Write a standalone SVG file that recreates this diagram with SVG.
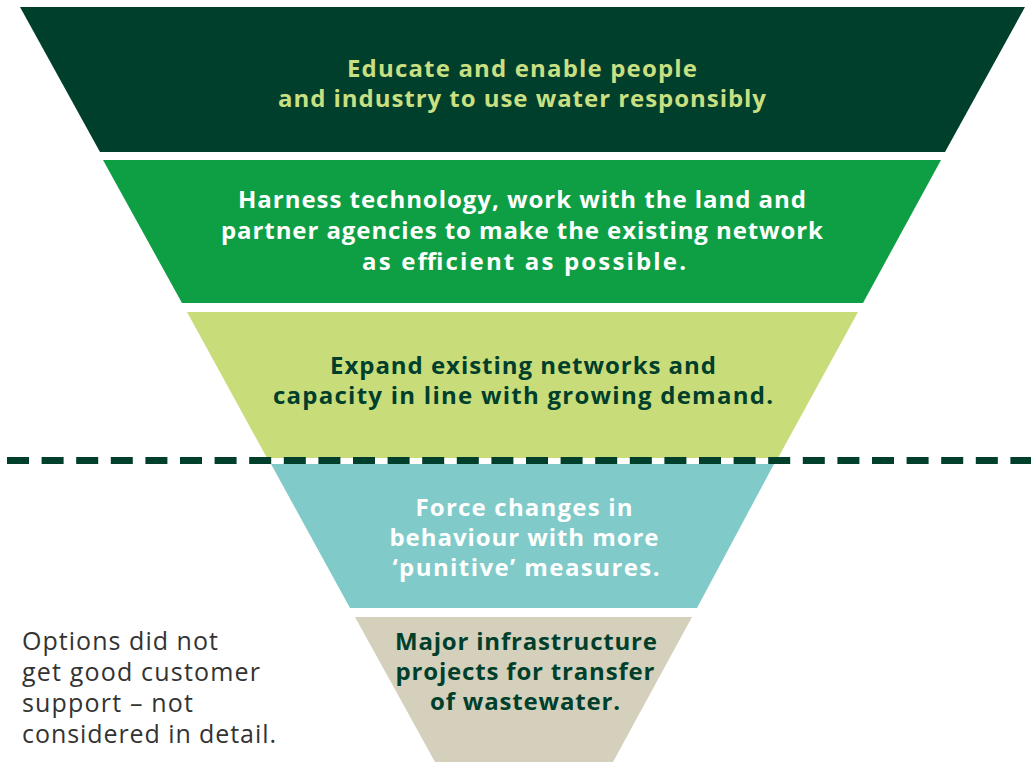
<svg xmlns="http://www.w3.org/2000/svg" width="1031" height="762" viewBox="0 0 1031 762">
<style>
.t{font-family:"Open Sans","Liberation Sans",sans-serif;font-weight:700;font-size:24px;text-anchor:middle}
.lg{fill:#c8df82}
.w{fill:#ffffff}
.dg{fill:#003f2b}
.side{font-family:"Open Sans","Liberation Sans",sans-serif;font-weight:400;font-size:25px;fill:#333333}
</style>
<rect width="1031" height="762" fill="#ffffff"/>
<g id="band1">
<polygon points="20,7 1025,7 945,152 100,152" fill="#003f2b"/>
<text class="t lg" x="522" y="77" textLength="350">Educate and enable people</text>
<text class="t lg" x="522" y="107" textLength="488">and industry to use water responsibly</text>
</g>
<g id="band2">
<polygon points="103,160 941,160 863,303 182,303" fill="#0e9f45"/>
<text class="t w" x="522" y="208" textLength="568">Harness technology, work with the land and</text>
<text class="t w" x="522" y="239" textLength="602">partner agencies to make the existing network</text>
<text class="t w" x="524" y="270" textLength="324">as efficient as possible.</text>
</g>
<g id="band3">
<polygon points="187,312 858,312 778,458 267,458" fill="#c8dc7a"/>
<text class="t dg" x="523" y="374" textLength="386">Expand existing networks and</text>
<text class="t dg" x="523" y="404" textLength="500">capacity in line with growing demand.</text>
</g>
<g id="band4">
<polygon points="271,464 774,464 697,608 350,608" fill="#80cbc9"/>
<text class="t w" x="524" y="516" textLength="217">Force changes in</text>
<text class="t w" x="524" y="546" textLength="269">behaviour with more</text>
<text class="t w" x="526" y="576" textLength="267">‘punitive’ measures.</text>
</g>
<g id="band5">
<polygon points="355,617 692,617 613,762 435,762" fill="#d4d0bb"/>
<text class="t dg" x="526" y="650" textLength="262">Major infrastructure</text>
<text class="t dg" x="525" y="680" textLength="259">projects for transfer</text>
<text class="t dg" x="525" y="710" textLength="190">of wastewater.</text>
</g>
<g id="connectors">
<line x1="7" y1="460.5" x2="1031" y2="460.5" stroke="#003f2b" stroke-width="7" stroke-dasharray="22 12.6"/>
</g>
<g id="note">
<text class="side" x="22" y="650" textLength="196">Options did not</text>
<text class="side" x="22" y="681" textLength="238">get good customer</text>
<text class="side" x="22" y="712" textLength="171">support – not</text>
<text class="side" x="22" y="743" textLength="254">considered in detail.</text>
</g>
</svg>
